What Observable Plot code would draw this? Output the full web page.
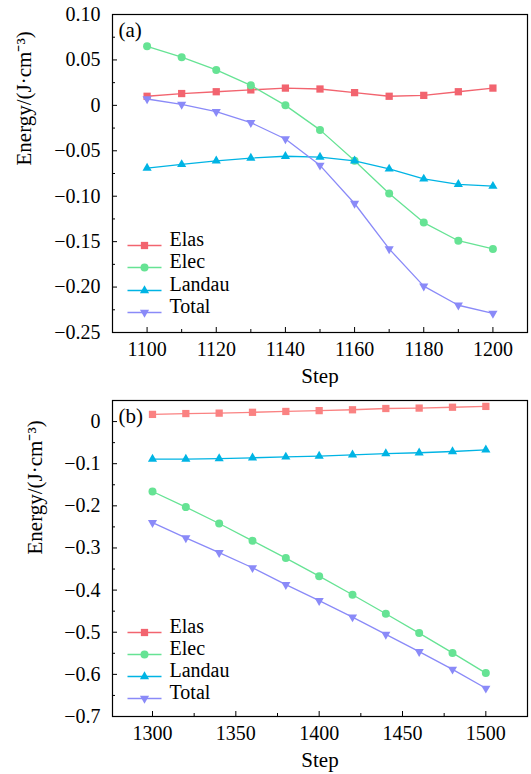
<!DOCTYPE html>
<html><head><meta charset="utf-8">
<script src="https://cdn.jsdelivr.net/npm/d3@7"></script>
<script src="https://cdn.jsdelivr.net/npm/@observablehq/plot@0.6"></script>
<style>body{margin:0;background:#fff} svg{display:block} svg text{font-family:"Liberation Serif",serif !important;}</style>
</head><body><div id="chart"></div>
<script>
const seriesNames = ["Elas", "Elec", "Landau", "Total"];
const yLabel = "Energy/(J·cm⁻³)";
const xLabel = "Step";

// Panel (a)
const stepsA = [1100, 1110, 1120, 1130, 1140, 1150, 1160, 1170, 1180, 1190, 1200];
const elasA = [0.010, 0.013, 0.015, 0.017, 0.019, 0.018, 0.014, 0.010, 0.011, 0.015, 0.019];
const elecA = [0.065, 0.053, 0.039, 0.022, 0.000, -0.027, -0.061, -0.097, -0.129, -0.149, -0.158];
const landauA = [-0.069, -0.065, -0.061, -0.058, -0.056, -0.057, -0.061, -0.070, -0.081, -0.087, -0.089];
const totalA = [0.007, 0.001, -0.007, -0.019, -0.037, -0.066, -0.108, -0.158, -0.199, -0.220, -0.229];
const xTicksA = [1100, 1120, 1140, 1160, 1180, 1200];
const xMinorA = [1110, 1130, 1150, 1170, 1190];
const yTicksA = [0.10, 0.05, 0, -0.05, -0.10, -0.15, -0.20, -0.25];
const yMinorA = [0.075, 0.025, -0.025, -0.075, -0.125, -0.175, -0.225];

// Panel (b)
const stepsB = [1300, 1320, 1340, 1360, 1380, 1400, 1420, 1440, 1460, 1480, 1500];
const elasB = [0.017, 0.019, 0.020, 0.022, 0.024, 0.026, 0.028, 0.031, 0.032, 0.034, 0.036];
const elecB = [-0.166, -0.203, -0.242, -0.283, -0.324, -0.367, -0.411, -0.456, -0.502, -0.549, -0.597];
const landauB = [-0.089, -0.089, -0.088, -0.086, -0.084, -0.082, -0.079, -0.076, -0.074, -0.071, -0.067];
const totalB = [-0.240, -0.276, -0.311, -0.347, -0.387, -0.425, -0.464, -0.505, -0.546, -0.588, -0.633];
const xTicksB = [1300, 1350, 1400, 1450, 1500];
const xMinorB = [1325, 1375, 1425, 1475];
const yTicksB = [0, -0.1, -0.2, -0.3, -0.4, -0.5, -0.6, -0.7];
const yMinorB = [-0.05, -0.15, -0.25, -0.35, -0.45, -0.55, -0.65];

const FONT = "Liberation Serif";
const symbols = ["square", "circle", "triangle", "triangle"];
const rotations = [0, 0, 0, 180];
const radii = [4.1, 4.0, 3.4, 3.4];
const lineSym = {draw(ctx) { ctx.moveTo(-17, 0); ctx.lineTo(17, 0); }};

function fmt(dec) {
  return d => d === 0 ? "0" : (d < 0 ? "−" : "") + Math.abs(d).toFixed(dec);
}

function panel(o) {
  const series = o.series;
  const tf = {fontFamily: FONT, fontSize: 20};
  const marks = [
    Plot.axisX({ticks: o.xTicks, tickSize: -5, tickPadding: 14, ...tf, label: null, tickFormat: d => String(d)}),
    Plot.axisX({ticks: o.xMinor, tickSize: -3, tickFormat: () => "", label: null}),
    Plot.axisY({ticks: o.yTicks, tickSize: -5, tickPadding: 17, ...tf, label: null, tickFormat: o.yFormat}),
    Plot.axisY({ticks: o.yMinor, tickSize: -3, tickFormat: () => "", label: null}),
    Plot.frame({stroke: "#000", strokeWidth: 1.2}),
    Plot.text([xLabel], {frameAnchor: "bottom", dy: 36, lineAnchor: "top", ...tf, fontSize: 21}),
    Plot.text([yLabel], {frameAnchor: "left", rotate: -90, dx: o.ylabDx, dy: o.ylabDy, ...tf, fontSize: 21}),
    Plot.text([o.tag], {frameAnchor: "top-left", dx: 6, dy: 8, textAnchor: "start", lineAnchor: "top", ...tf, fontSize: 21})
  ];
  series.forEach((s, i) => {
    const data = o.steps.map((x, j) => ({name: seriesNames[i], x, y: s[j]}));
    marks.push(Plot.line(data, {x: "x", y: "y", stroke: o.lineColors[i], strokeWidth: 1.3}));
    marks.push(Plot.dot(data, {x: "x", y: "y", symbol: symbols[i], rotate: rotations[i], r: radii[i], fill: o.colors[i], stroke: "none"}));
    // legend
    marks.push(Plot.dot([seriesNames[i]], {frameAnchor: "bottom-left", dx: 32, dy: o.legendDy[i], symbol: lineSym, r: 1, fill: "none", stroke: o.legendColors[i], strokeWidth: 1.3}));
    marks.push(Plot.dot([seriesNames[i]], {frameAnchor: "bottom-left", dx: 32, dy: o.legendDy[i], symbol: symbols[i], rotate: rotations[i], r: radii[i], fill: o.legendColors[i], stroke: "none"}));
    marks.push(Plot.text([seriesNames[i]], {frameAnchor: "bottom-left", dx: 57, dy: o.legendDy[i], textAnchor: "start", ...tf, fontSize: 20}));
  });
  const svg = Plot.plot({
    width: 531,
    height: o.height,
    marginLeft: 112,
    marginRight: 4,
    marginTop: o.marginTop,
    marginBottom: o.marginBottom,
    style: {fontFamily: FONT, fontSize: "20px", color: "#000", background: "#fff"},
    x: {domain: o.xDomain},
    y: {domain: o.yDomain},
    marks
  });
  svg.setAttribute("font-family", FONT);
  return svg;
}

const colA = ["#f2646f", "#66e394", "#00b4e4", "#8a8af8"];
const colB = ["#fa8282", "#66e394", "#00b4e4", "#8a8af8"];

const chart = document.getElementById("chart");
chart.appendChild(panel({
  steps: stepsA, series: [elasA, elecA, landauA, totalA],
  xDomain: [1090, 1210], yDomain: [-0.25, 0.10],
  xTicks: xTicksA, xMinor: xMinorA, yTicks: yTicksA, yMinor: yMinorA, yFormat: fmt(2),
  tag: "(a)", colors: colA, lineColors: colA, legendColors: colA,
  height: 387, marginTop: 14, marginBottom: 55,
  legendDy: [-87, -65, -42, -20], ylabDx: -88, ylabDy: -8
}));
chart.appendChild(panel({
  steps: stepsB, series: [elasB, elecB, landauB, totalB],
  xDomain: [1276, 1525], yDomain: [-0.7, 0.05],
  xTicks: xTicksB, xMinor: xMinorB, yTicks: yTicksB, yMinor: yMinorB, yFormat: fmt(1),
  tag: "(b)", colors: colB, lineColors: colB, legendColors: colA,
  height: 387, marginTop: 13, marginBottom: 58,
  legendDy: [-84, -62, -40, -18], ylabDx: -77, ylabDy: -4
}));
</script></body></html>
